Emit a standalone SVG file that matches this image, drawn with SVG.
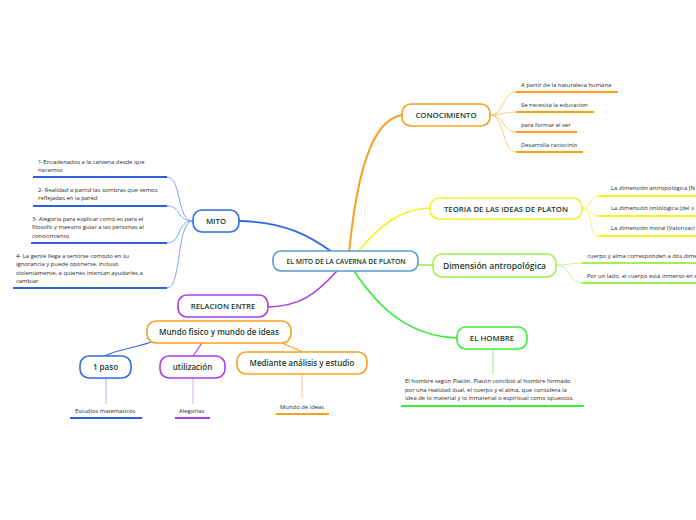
<svg xmlns="http://www.w3.org/2000/svg" width="696" height="520" viewBox="0 0 696 520">
<style>
.bg{fill:#ffffff}
.node{fill:#ffffff;stroke-width:1.6}
.nt{font-family:"Open Sans","DejaVu Sans",sans-serif;font-size:7.8px;font-weight:600;fill:#163a30;text-anchor:middle}
.lt{font-family:"Open Sans","DejaVu Sans",sans-serif;font-size:5.9px;fill:#2a2a2a}
.c{fill:none}
.ul{fill:none;stroke-width:2}
.lk{fill:none;stroke-width:1}
</style>
<rect class="bg" width="696" height="520"/>
<g id="connectors">
  <path class="c" d="M239,221 C285,222 310,236 332,252" stroke="#2f6ae6" stroke-width="1.8"/>
  <path class="c" d="M349,254 C356,180 370,120 402,115" stroke="#f7a020" stroke-width="2"/>
  <path class="c" d="M356,254 C380,225 400,209 430,208" stroke="#f2f22a" stroke-width="1.6"/>
  <path class="c" d="M418,265 L433,265" stroke="#a0f050" stroke-width="1.6"/>
  <path class="c" d="M337,271 C315,295 300,306 268,307" stroke="#a93be8" stroke-width="1.6"/>
  <path class="c" d="M354,271 C380,310 410,336 457,338" stroke="#3cec3c" stroke-width="1.6"/>
  <path class="c" d="M151,342 C135,348 115,350 105,356" stroke="#2f6ae6" stroke-width="1.2"/>
  <path class="c" d="M202,343 L193,356" stroke="#a93be8" stroke-width="1.2"/>
  <path class="c" d="M282,343 L303,352" stroke="#f7a020" stroke-width="1.2"/>
  <!-- CONOCIMIENTO leaves -->
  <g stroke="#fbca7e" class="lk">
    <path d="M490,115 C505,115 502,92 516,92"/>
    <path d="M490,115 C505,115 502,112 516,112"/>
    <path d="M490,115 C505,115 502,132 516,132"/>
    <path d="M490,115 C505,115 502,152 516,152"/>
  </g>
  <g stroke="#f7a020" class="ul">
    <path d="M516,92 L618,92"/>
    <path d="M516,112 L594,112"/>
    <path d="M516,132 L577,132"/>
    <path d="M516,152 L583,152"/>
  </g>
  <!-- TEORIA leaves -->
  <g stroke="#f6f67a" class="lk">
    <path d="M582,208 C594,208 588,196 598,196"/>
    <path d="M582,208 C594,208 588,216 598,216"/>
    <path d="M582,208 C594,208 588,236 598,236"/>
  </g>
  <g stroke="#f2f22a" class="ul">
    <path d="M598,196 L696,196"/>
    <path d="M598,216 L696,216"/>
    <path d="M598,236 L696,236"/>
  </g>
  <!-- Dimension leaves -->
  <g stroke="#c4f59a" class="lk">
    <path d="M556,265 C570,265 570,263 582,263"/>
    <path d="M556,265 C570,265 570,283 582,283"/>
  </g>
  <g stroke="#a0f050" class="ul">
    <path d="M582,263 L696,263"/>
    <path d="M582,283 L696,283"/>
  </g>
  <!-- EL HOMBRE leaf -->
  <path class="lk" d="M493,349 L493,374" stroke="#8ff58f"/>
  <path class="ul" d="M401,406 L584,406" stroke="#3cec3c"/>
  <!-- MITO leaves -->
  <g stroke="#7ea7f2" class="lk">
    <path d="M193,221 C176,221 182,177 167,177"/>
    <path d="M193,221 C176,221 182,206 167,206"/>
    <path d="M193,221 C176,221 182,243 167,243"/>
    <path d="M193,221 C176,221 182,288 167,288"/>
  </g>
  <g stroke="#2f5fe0" class="ul">
    <path d="M33,177 L167,177"/>
    <path d="M33,206 L167,206"/>
    <path d="M31,243 L167,243"/>
    <path d="M13,288 L167,288"/>
  </g>
  <!-- RELACION sub leaves -->
  <path class="lk" d="M106,378 L106,404" stroke="#9dbcf5"/>
  <path class="ul" d="M70,418 L142,418" stroke="#2f5fe0"/>
  <path class="lk" d="M193,378 L193,404" stroke="#dba6f3"/>
  <path class="ul" d="M175,418 L210,418" stroke="#a93be8"/>
  <path class="lk" d="M302,374 L302,398" stroke="#fbca7e"/>
  <path class="ul" d="M276,414 L329,414" stroke="#f7a020"/>
</g>

<g id="center">
  <rect class="node" x="273" y="251" width="145" height="20" rx="8" stroke="#5a9ad8"/>
  <text class="nt" x="346" y="264" style="font-size:6.8px">EL MITO DE LA CAVERNA DE PLATON</text>
</g>
<g id="conocimiento">
  <rect class="node" x="402" y="104" width="88" height="22" rx="9" stroke="#f7a020"/>
  <text class="nt" x="446" y="118">CONOCIMIENTO</text>
</g>
<g id="teoria">
  <rect class="node" x="430" y="198" width="152" height="21" rx="9" stroke="#f2f22a"/>
  <text class="nt" x="506" y="211.5">TEORIA DE LAS IDEAS DE PLATON</text>
</g>
<g id="dimension">
  <rect class="node" x="433" y="254" width="123" height="23" rx="9" stroke="#a0f050"/>
  <text class="nt" x="494.5" y="268.5" style="font-size:8.5px">Dimensión antropológica</text>
</g>
<g id="hombre">
  <rect class="node" x="457" y="327" width="70" height="22" rx="9" stroke="#3cec3c"/>
  <text class="nt" x="492" y="341">EL HOMBRE</text>
</g>
<g id="mito">
  <rect class="node" x="193" y="210" width="46" height="22" rx="9" stroke="#2f6ae6"/>
  <text class="nt" x="216" y="224">MITO</text>
</g>
<g id="relacion">
  <rect class="node" x="178" y="295" width="90" height="22" rx="9" stroke="#a93be8"/>
  <text class="nt" x="223" y="309">RELACION ENTRE</text>
</g>
<g id="mundo">
  <rect class="node" x="147" y="321" width="144" height="22" rx="9" stroke="#f7a020"/>
  <text class="nt" x="219" y="335" style="font-size:8px">Mundo fisico y mundo de ideas</text>
</g>
<g id="paso">
  <rect class="node" x="80" y="356" width="51" height="22" rx="9" stroke="#2f6ae6"/>
  <text class="nt" x="105.5" y="370" style="font-size:8px">1 paso</text>
</g>
<g id="utilizacion">
  <rect class="node" x="160" y="356" width="65" height="22" rx="9" stroke="#a93be8"/>
  <text class="nt" x="192.5" y="370" style="font-size:8px">utilización</text>
</g>
<g id="mediante">
  <rect class="node" x="237" y="352" width="130" height="22" rx="9" stroke="#f7a020"/>
  <text class="nt" x="302" y="366" style="font-size:8px">Mediante análisis y estudio</text>
</g>

<g id="leaves">
  <text class="lt" x="521" y="87">A partir de la naturaleza humana</text>
  <text class="lt" x="521" y="107">Se necesita la educacion</text>
  <text class="lt" x="521" y="127">para formar el ser</text>
  <text class="lt" x="521" y="147">Desarrolla raciocinio</text>

  <text class="lt" x="611" y="190">La dimensión antropológica (N</text>
  <text class="lt" x="611" y="210">La dimensión ontológica (del s</text>
  <text class="lt" x="611" y="230">La dimensión moral (Valorizaci</text>

  <text class="lt" x="587" y="258">cuerpo y alma corresponden a dos dime</text>
  <text class="lt" x="587" y="278">Por un lado, el cuerpo está inmerso en e</text>

  <text class="lt" x="405" y="383">El hombre según Platón. Platón concibió al hombre formado</text>
  <text class="lt" x="405" y="391.5">por una realidad dual, el cuerpo y el alma, que considera la</text>
  <text class="lt" x="405" y="400">idea de lo material y lo inmaterial o espiritual como opuestos.</text>

  <text class="lt" x="38" y="164">1-Encadenados a la carvena desde que</text>
  <text class="lt" x="38" y="172">nacemos</text>
  <text class="lt" x="38" y="192">2- Realidad a partid las sombras que vemos</text>
  <text class="lt" x="38" y="200">reflejadas en la pared</text>
  <text class="lt" x="32" y="221">3- Alegoria para explicar como es para el</text>
  <text class="lt" x="32" y="229">filosofo y maestro guiar a las personas al</text>
  <text class="lt" x="32" y="237.5">conocimiento</text>
  <text class="lt" x="16" y="258">4- La gente llega a sentirse comodo en su</text>
  <text class="lt" x="16" y="266">ignorancia y puede oponerse, incluso</text>
  <text class="lt" x="16" y="274.5">violentamente, a quienes intentan ayudarles a</text>
  <text class="lt" x="16" y="283">cambiar</text>

  <text class="lt" x="75" y="413">Estudios matematicos</text>
  <text class="lt" x="179" y="413">Alegorías</text>
  <text class="lt" x="280" y="409">Mundo de ideas</text>
</g>
</svg>
